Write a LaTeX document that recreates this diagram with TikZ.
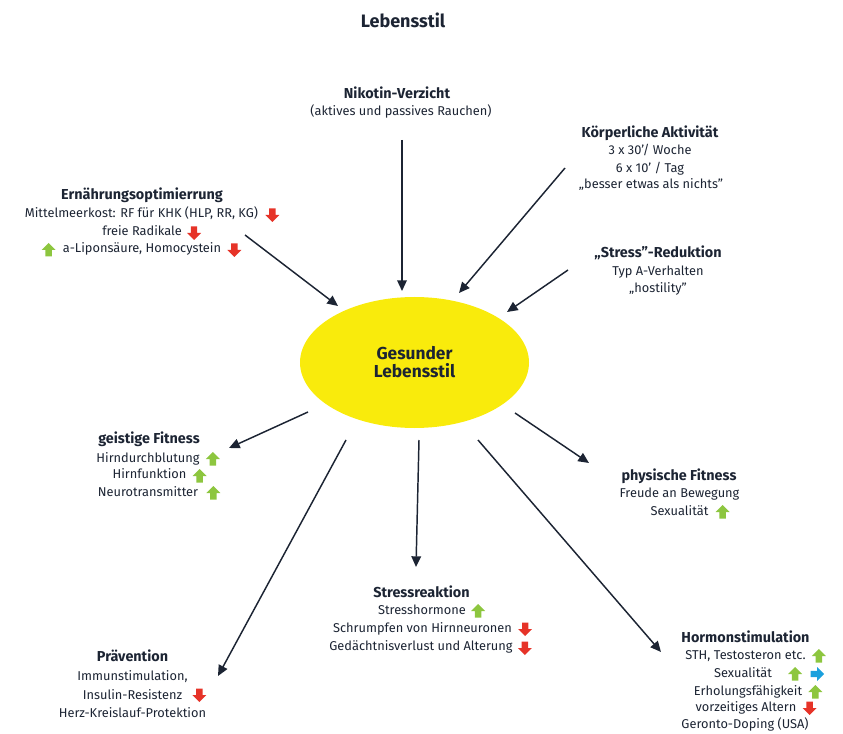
\documentclass[tikz,border=0pt]{standalone}
\usepackage{fontspec}
\setmainfont{Fira Sans}
\usetikzlibrary{arrows.meta,shapes.geometric}
\definecolor{ink}{RGB}{28,36,51}
\definecolor{sun}{RGB}{249,235,12}
\definecolor{upgreen}{RGB}{141,198,63}
\definecolor{downred}{RGB}{230,51,40}
\definecolor{rightblue}{RGB}{26,160,221}
\tikzset{
  txt/.style={anchor=base,inner sep=0pt,text=ink,font=\fontsize{9.6}{12}\selectfont},
  hd/.style={anchor=base,inner sep=0pt,text=ink,font=\fontsize{10.8}{12}\selectfont\bfseries},
  arr/.style={draw=ink,line width=1.1pt,-{Triangle[length=8pt,width=7.2pt]}},
  uparrow/.pic={\fill[upgreen] (-7,0) -- (0,-7) -- (7,0) -- (3.2,0) -- (3.2,6.5) -- (-3.2,6.5) -- (-3.2,0) -- cycle;},
  downarrow/.pic={\fill[downred] (-7,0) -- (0,7) -- (7,0) -- (3.2,0) -- (3.2,-6.5) -- (-3.2,-6.5) -- (-3.2,0) -- cycle;},
  rightarrow/.pic={\fill[rightblue] (0,-7) -- (7,0) -- (0,7) -- (0,3.2) -- (-6.5,3.2) -- (-6.5,-3.2) -- (0,-3.2) -- cycle;}
}
\begin{document}
\begin{tikzpicture}[x=0.75pt,y=-0.75pt]
\useasboundingbox (0,0) rectangle (843,734);
% title
\node[anchor=base,inner sep=0pt,text=ink,font=\fontsize{13.5}{15}\selectfont\bfseries] (title) at (403,28) {Lebensstil};
% centre
\node[ellipse,fill=sun,minimum width=171.75pt,minimum height=98.25pt,inner sep=0pt] (c) at (414.5,362.5) {};
\node[align=center,inner sep=0pt,text=ink,font=\fontsize{13}{13}\selectfont\bfseries] (ct) at (414.5,362) {Gesunder\\Lebensstil};
% Nikotin
\node[hd] (n0) at (397,99) {Nikotin-Verzicht};
\node[txt] (n1) at (401,116) {(aktives und passives Rauchen)};
% Koerperliche
\node[hd] (k0) at (650,138) {Körperliche Aktivität};
\node[txt] (k1) at (650,155) {3 x 30’/ Woche};
\node[txt] (k2) at (650,173) {6 x 10’ / Tag};
\node[txt] (k3) at (651,189) {„besser etwas als nichts"};
% Stress
\node[hd] (s0) at (658,258) {„Stress"-Reduktion};
\node[txt] (s1) at (658,276) {Typ A-Verhalten};
\node[txt] (s2) at (658,293) {„hostility"};
% Ernaehrung
\node[hd] (e0) at (142,200) {Ernährungsoptimierrung};
\node[txt] (e1) at (141.5,218) {Mittelmeerkost: RF für KHK (HLP, RR, KG)};
\node[txt] (e2) at (142,236) {freie Radikale};
\node[txt] (e3) at (142,253) {a-Liponsäure, Homocystein};
\pic at ([shift={(14,-3)}]e1.base east) {downarrow};
\pic at ([shift={(12,-3)}]e2.base east) {downarrow};
\pic at ([shift={(-14,-3)}]e3.base west) {uparrow};
\pic at ([shift={(13,-3)}]e3.base east) {downarrow};
% geistige
\node[hd] (g0) at (149,443) {geistige Fitness};
\node[txt] (g1) at (148,462) {Hirndurchblutung};
\node[txt] (g2) at (149.5,479) {Hirnfunktion};
\node[txt] (g3) at (148,496) {Neurotransmitter};
\pic at ([shift={(13,-3)}]g1.base east) {uparrow};
\pic at ([shift={(13,-3)}]g2.base east) {uparrow};
\pic at ([shift={(15,-3)}]g3.base east) {uparrow};
% physische
\node[hd] (p0) at (679,480) {physische Fitness};
\node[txt] (p1) at (679.5,497) {Freude an Bewegung};
\node[txt] (p2) at (679.5,515) {Sexualität};
\pic at ([shift={(14,-3)}]p2.base east) {uparrow};
% Stressreaktion
\node[hd] (r0) at (421.5,597) {Stressreaktion};
\node[txt] (r1) at (422,614) {Stresshormone};
\node[txt] (r2) at (422.5,632) {Schrumpfen von Hirnneuronen};
\node[txt] (r3) at (421,650) {Gedächtnisverlust und Alterung};
\pic at ([shift={(12,-3)}]r1.base east) {uparrow};
\pic at ([shift={(13,-3)}]r2.base east) {downarrow};
\pic at ([shift={(12,-2)}]r3.base east) {downarrow};
% Praevention
\node[hd] (v0) at (132.5,661) {Prävention};
\node[txt] (v1) at (132.5,680) {Immunstimulation,};
\node[txt] (v2) at (132.5,699) {Insulin-Resistenz};
\node[txt] (v3) at (132.5,717) {Herz-Kreislauf-Protektion};
\pic at ([shift={(17,-4)}]v2.base east) {downarrow};
% Hormon
\node[hd] (h0) at (745.5,642) {Hormonstimulation};
\node[txt] (h1) at (745.5,659) {STH, Testosteron etc.};
\node[txt] (h2) at (743,677) {Sexualität};
\node[txt] (h3) at (748,695) {Erholungsfähigkeit};
\node[txt] (h4) at (746,711) {vorzeitiges Altern};
\node[txt] (h5) at (745,728) {Geronto-Doping (USA)};
\pic at ([shift={(13,-3)}]h1.base east) {uparrow};
\pic at ([shift={(23,-3)}]h2.base east) {uparrow};
\pic at ([shift={(45,-3)}]h2.base east) {rightarrow};
\pic at ([shift={(13,-3)}]h3.base east) {uparrow};
\pic at ([shift={(13,-3)}]h4.base east) {downarrow};
% connector ends
\coordinate (a1s) at (402,140); \coordinate (a1e) at (402,291);
\coordinate (a2s) at (565,168); \coordinate (a2e) at (459,293);
\coordinate (a3s) at (568,270); \coordinate (a3e) at (507,312);
\coordinate (a4s) at (245,235); \coordinate (a4e) at (338,306);
\coordinate (a5s) at (308,412); \coordinate (a5e) at (229,448);
\coordinate (a6s) at (515,413); \coordinate (a6e) at (589,463);
\coordinate (a7s) at (419,440); \coordinate (a7e) at (416,567);
\coordinate (a8s) at (346,440); \coordinate (a8e) at (218,676);
\coordinate (a9s) at (478,440); \coordinate (a9e) at (661,652);
\foreach \i in {1,...,9} {\draw[arr] (a\i s) -- (a\i e);}
\end{tikzpicture}
\end{document}
